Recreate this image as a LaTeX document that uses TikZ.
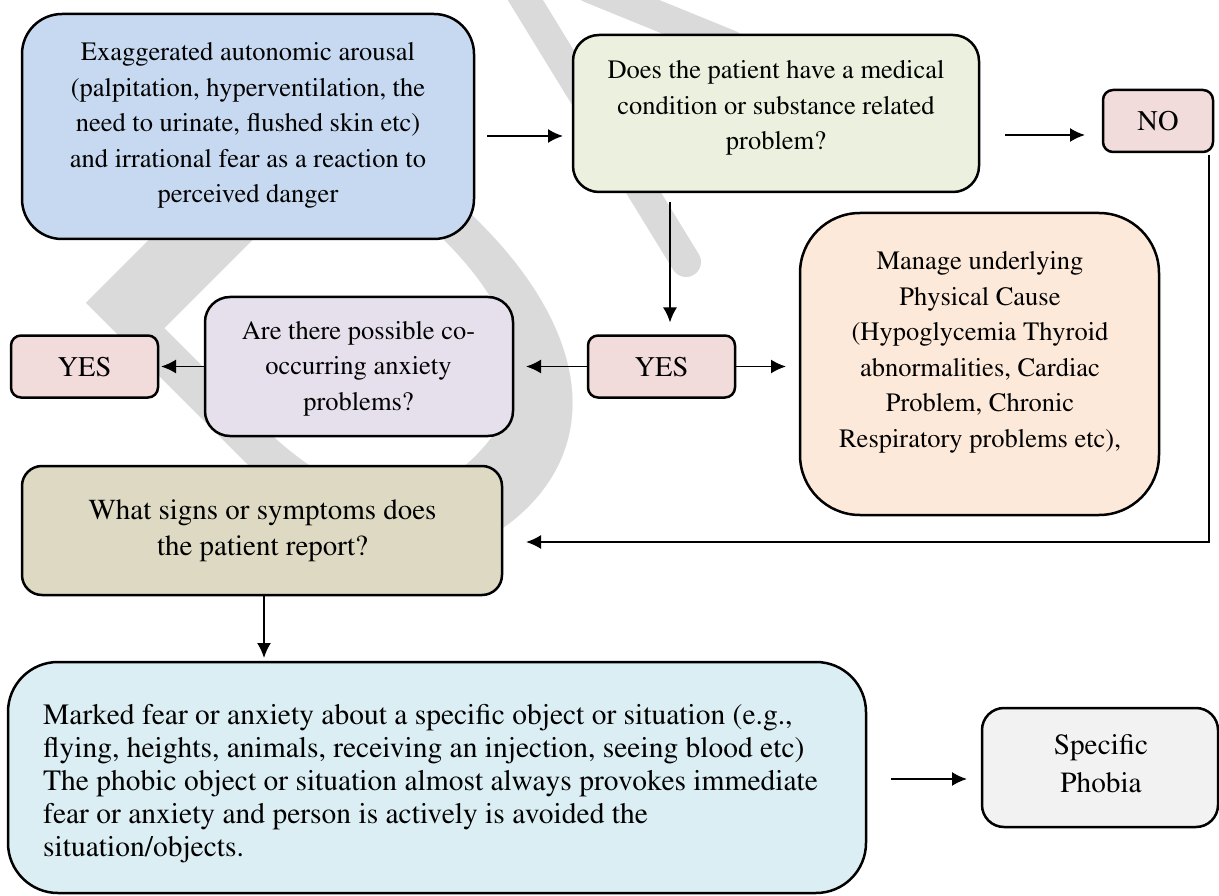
\documentclass[tikz,border=0pt]{standalone}
\usepackage[T1]{fontenc}
\renewcommand{\rmdefault}{ptm}
\usetikzlibrary{arrows.meta}

\definecolor{cBlue}{RGB}{198,217,241}
\definecolor{cGreen}{RGB}{235,241,222}
\definecolor{cPink}{RGB}{242,220,219}
\definecolor{cLilac}{RGB}{229,224,236}
\definecolor{cPeach}{RGB}{253,233,217}
\definecolor{cKhaki}{RGB}{221,217,195}
\definecolor{cCyan}{RGB}{219,238,243}
\definecolor{cGrey}{RGB}{242,242,242}
\definecolor{cMark}{RGB}{218,218,218}

\begin{document}
\begin{tikzpicture}[x=1pt,y=-1pt,
  box/.style={draw=black, line width=2.5pt, inner sep=0pt, outer sep=0pt},
  lbl/.style={inner sep=0pt, align=center, font=\fontsize{26.5}{35.5}\selectfont},
  lblbig/.style={inner sep=0pt, align=center, font=\fontsize{28.5}{36}\selectfont},
  arr/.style={line width=1.8pt, -{Latex[length=15pt,width=14pt]}},
  wmark/.style={anchor=base west, rotate=-45, inner sep=0pt, text=cMark,
    font=\fontfamily{phv}\fontsize{460}{460}\selectfont},
  wmstroke/.style={draw=cMark, line width=30pt, line cap=round},
]
\useasboundingbox (0,0) rectangle (1219,896);
\fill[white] (0,0) rectangle (1219,896);

% faint watermark lettering behind the chart
\node[wmark] (wm) at (36,253) {\scalebox{1.72}[1]{D}};
\draw[wmstroke] (510,-25) -- (686,262);
\draw[wmstroke] (590,-12) -- (730,45);

% boxes
\node[box, fill=cBlue,  rounded corners=40pt, minimum width=452pt, minimum height=225pt] (a)  at (248,126.5) {};
\node[box, fill=cGreen, rounded corners=26pt, minimum width=406pt, minimum height=157pt] (b)  at (776,113.5) {};
\node[box, fill=cPink,  rounded corners=10pt, minimum width=110pt, minimum height=62pt]  (no) at (1158,121) {};
\node[box, fill=cPink,  rounded corners=10pt, minimum width=147pt, minimum height=62pt]  (ym) at (661.5,366.5) {};
\node[box, fill=cPink,  rounded corners=10pt, minimum width=147pt, minimum height=62pt]  (yl) at (84.5,366.5) {};
\node[box, fill=cLilac, rounded corners=25pt, minimum width=308pt, minimum height=139pt] (p)  at (359,366.5) {};
\node[box, fill=cPeach, rounded corners=60pt, minimum width=359pt, minimum height=302pt] (o)  at (979.5,364) {};
\node[box, fill=cKhaki, rounded corners=20pt, minimum width=480pt, minimum height=129pt] (k)  at (262,530.5) {};
\node[box, fill=cCyan,  rounded corners=50pt, minimum width=858pt, minimum height=231pt] (c)  at (437,777.5) {};
\node[box, fill=cGrey,  rounded corners=22pt, minimum width=236pt, minimum height=119pt] (s)  at (1100,767.5) {};

% texts
\node[lbl] (ta) at (248,125.5) {Exaggerated autonomic arousal\\(palpitation, hyperventilation, the\\need to urinate, flushed skin etc)\\and irrational fear as a reaction to\\perceived danger};
\node[lbl] (tb) at (776,108) {Does the patient have a medical\\condition or substance related\\problem?};
\node[lblbig] (tno) at (1158,121) {NO};
\node[lblbig] (tym) at (661.5,366.5) {YES};
\node[lblbig] (tyl) at (84.5,366.5) {YES};
\node[lbl] (tp) at (358.5,368.6) {Are there possible co-\\occurring anxiety\\problems?};
\node[lbl] (to) at (980,352.6) {Manage underlying\\Physical Cause\\(Hypoglycemia Thyroid\\abnormalities, Cardiac\\Problem, Chronic\\Respiratory problems etc),};
\node[lblbig, font=\fontsize{29}{36}\selectfont] (tk) at (262.5,531) {What signs or symptoms does\\the patient report?};
\node[inner sep=0pt, align=left, anchor=west, font=\fontsize{29.5}{33}\selectfont] (tc) at (43,784)
  {Marked fear or anxiety about a specific object or situation (e.g.,\\flying, heights, animals, receiving an injection, seeing blood etc)\\The phobic object or situation almost always provokes immediate\\fear or anxiety and person is actively is avoided the\\situation/objects.};
\node[lblbig, font=\fontsize{29.3}{38}\selectfont] (ts) at (1101,764) {Specific\\Phobia};

% connectors
\draw[arr] ([xshift=13pt,yshift=-9.5pt]a.east) -- ([xshift=-10pt,yshift=-22.5pt]b.west);
\draw[arr] ([xshift=26pt,yshift=-21.5pt]b.east) -- ([xshift=-18pt,yshift=-14pt]no.west);
\draw[arr] ([xshift=-106pt,yshift=-10pt]b.south) -- ([xshift=8.5pt,yshift=13pt]ym.north);
\draw[arr] ([xshift=-4pt,yshift=-3pt]no.south east) |- ([xshift=24pt,yshift=-11.5pt]k.east);
\draw[arr] (ym.west) -- ([xshift=13pt]p.east);
\draw[arr] (ym.east) -- ([xshift=-14pt,yshift=-2.5pt]o.west);
\draw[arr] (p.west) -- ([xshift=3pt]yl.east);
\draw[arr] ([xshift=2pt]k.south) -- ([xshift=-173pt,yshift=4pt]c.north);
\draw[arr] ([xshift=25pt,yshift=-1.5pt]c.east) -- ([xshift=-15pt,yshift=-11.5pt]s.west);
\end{tikzpicture}
\end{document}
